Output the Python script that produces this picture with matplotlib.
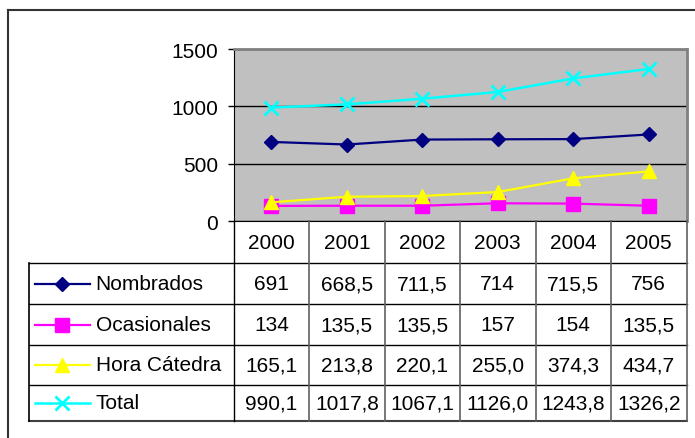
import matplotlib
matplotlib.use("Agg")
import matplotlib.pyplot as plt
from matplotlib.lines import Line2D

plt.rcParams['font.family'] = ['Liberation Sans', 'DejaVu Sans']

# data
years = ['2000', '2001', '2002', '2003', '2004', '2005']
nombrados = [691, 668.5, 711.5, 714, 715.5, 756]
ocasionales = [134, 135.5, 135.5, 157, 154, 135.5]
hora_catedra = [165.1, 213.8, 220.1, 255.0, 374.3, 434.7]
total = [990.1, 1017.8, 1067.1, 1126.0, 1243.8, 1326.2]
series_names = ['Nombrados', 'Ocasionales', 'Hora Cátedra', 'Total']
y_ticks = [0, 500, 1000, 1500]

series = [nombrados, ocasionales, hora_catedra, total]
# (color, marker, markersize, line width, label format)
styles = [
    ('#000080', 'D', 7.0, 1.6, 'g'),
    ('#FF00FF', 's', 9.5, 1.6, 'g'),
    ('#FFFF00', '^', 10.0, 1.6, '.1f'),
    ('#00FFFF', 'x', 10.5, 1.8, '.1f'),
]
FS = 15

W, H = 695, 439
fig = plt.figure(figsize=(W / 100, H / 100), dpi=100)


def fbox(x0, y0, x1, y1):
    # pixel box (origin top-left) -> figure fraction rect
    return [x0 / W, 1 - y1 / H, (x1 - x0) / W, (y1 - y0) / H]


def fmt(v, f):
    return format(v, f).replace('.', ',')


plot_left, plot_right = 233.6, 686.5
plot_top, plot_bottom = 50, 222.3
table_left = 29.3
row_edges = [222.3, 264, 305.5, 346, 386, 421.7]

# line chart
ax = fig.add_axes(fbox(plot_left, plot_top, plot_right, plot_bottom))
ax.set_facecolor('#C0C0C0')
xs = [i + 0.5 for i in range(len(years))]
for vals, (c, m, ms, lw, _) in zip(series, styles):
    if m == 'x':
        ax.plot(xs, vals, color=c, lw=lw, marker=m, ms=ms, mew=2, clip_on=False)
    else:
        ax.plot(xs, vals, color=c, lw=lw, marker=m, ms=ms, mec=c, clip_on=False)
ax.set_xlim(0, len(years))
ax.set_ylim(0, 1500)
ax.set_yticks(y_ticks)
ax.set_xticks([])
ax.tick_params(axis='y', direction='out', length=4, width=1, pad=7, labelsize=FS)
ax.yaxis.grid(True, color='black', lw=1)
ax.set_axisbelow(True)
ax.spines['left'].set_color('black')
ax.spines['bottom'].set_color('black')
for s in ['top', 'right']:
    ax.spines[s].set_color('#808080')
    ax.spines[s].set_linewidth(2)

# data table under the chart
col_w = (plot_right - plot_left) / len(years)
tx0 = (table_left - plot_left) / col_w
tab = fig.add_axes(fbox(table_left, row_edges[0], plot_right, row_edges[-1]))
tab.set_xlim(tx0, len(years))
tab.set_ylim(row_edges[-1], row_edges[0])
tab.axis('off')

for y in row_edges[1:-1]:
    tab.plot([tx0, len(years)], [y, y], color='black', lw=1, clip_on=False)
tab.plot([tx0, len(years)], [row_edges[-1]] * 2, color='#404040', lw=1.5, clip_on=False)
tab.plot([tx0, tx0], [row_edges[1], row_edges[-1]], color='black', lw=1.2, clip_on=False)
tab.plot([0, 0], [row_edges[0], row_edges[-1]], color='black', lw=1, clip_on=False)
for j in range(1, len(years) + 1):
    tab.plot([j, j], [row_edges[0], row_edges[-1]], color='#606060', lw=1.2, clip_on=False)

y_head = (row_edges[0] + row_edges[1]) / 2
for j, yr in enumerate(years):
    tab.text(j + 0.5, y_head, yr, ha='center', va='center', fontsize=FS)

lx0 = (34.6 - plot_left) / col_w
lx1 = (90 - plot_left) / col_w
ltext = (95.7 - plot_left) / col_w
for i, (name, vals, (c, m, ms, lw, f)) in enumerate(zip(series_names, series, styles)):
    yc = (row_edges[i + 1] + row_edges[i + 2]) / 2
    tab.plot([lx0, lx1], [yc, yc], color=c, lw=lw, clip_on=False)
    if m == 'x':
        tab.plot([(lx0 + lx1) / 2], [yc], color=c, marker=m, ms=ms, mew=2, clip_on=False)
    else:
        tab.plot([(lx0 + lx1) / 2], [yc], color=c, marker=m, ms=ms, mec=c, clip_on=False)
    tab.text(ltext, yc, name, ha='left', va='center', fontsize=FS)
    for j, v in enumerate(vals):
        tab.text(j + 0.5, yc, fmt(v, f), ha='center', va='center', fontsize=FS)

# outer chart frame (left and top edges visible)
fig.add_artist(Line2D([8 / W, 8 / W], [0, 1 - 11 / H], transform=fig.transFigure,
                      color='#333333', lw=1.5))
fig.add_artist(Line2D([8 / W, 1], [1 - 11 / H, 1 - 11 / H], transform=fig.transFigure,
                      color='#333333', lw=1.5))

fig.savefig('out.png', dpi=100)
